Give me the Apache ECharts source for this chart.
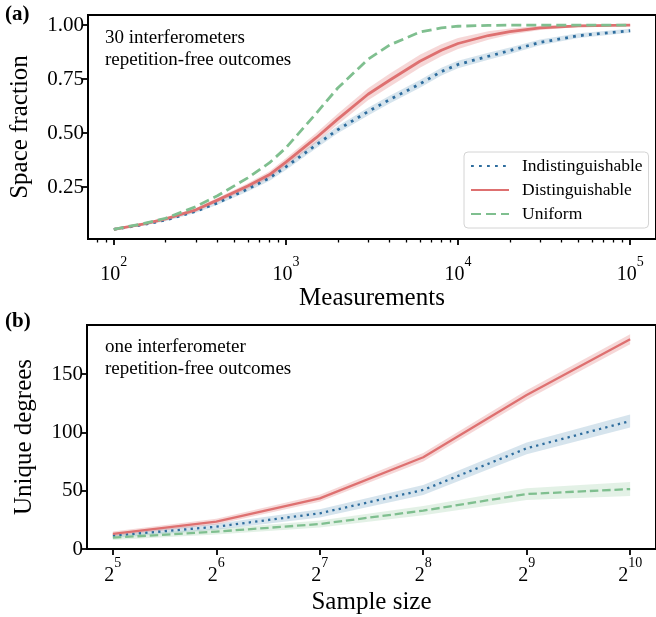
<!DOCTYPE html>
<html>
<head>
<meta charset="utf-8">
<script src="https://cdn.jsdelivr.net/npm/echarts@6/dist/echarts.min.js"></script>
<style>html,body{margin:0;padding:0;background:#fff;}#c{width:656px;height:617px;}</style>
</head>
<body>
<div id="c"></div>
<script>
// ---------- Panel (a) data ----------
const measN = [100,150,200,300,400,600,800,1000,1500,2000,3000,4000,6000,8000,10000,15000,20000,30000,50000,100000];
const indistFrac = [0.055,0.077,0.098,0.138,0.177,0.241,0.292,0.344,0.446,0.516,0.600,0.655,0.728,0.785,0.818,0.856,0.882,0.920,0.951,0.974];
const distFrac   = [0.055,0.080,0.103,0.145,0.190,0.255,0.307,0.366,0.479,0.565,0.680,0.745,0.833,0.884,0.915,0.952,0.970,0.987,0.997,1.000];
const uniformFrac= [0.055,0.082,0.106,0.160,0.210,0.293,0.362,0.432,0.592,0.709,0.842,0.908,0.968,0.987,0.995,0.999,1.000,1.000,1.000,1.000];
const indistFracBand = [0.004,0.005,0.006,0.007,0.009,0.011,0.013,0.014,0.016,0.017,0.018,0.018,0.018,0.018,0.017,0.016,0.015,0.013,0.011,0.009];
const distFracBand   = [0.004,0.005,0.006,0.008,0.010,0.013,0.016,0.018,0.022,0.025,0.028,0.030,0.030,0.028,0.025,0.020,0.015,0.010,0.005,0.002];
const topXTicks = [100,1000,10000,100000];
const topXMinorTicks = [80,90,200,300,400,500,600,700,800,900,2000,3000,4000,5000,6000,7000,8000,9000,20000,30000,40000,50000,60000,70000,80000,90000];
const topYTicks = [0.25,0.5,0.75,1.0];

// ---------- Panel (b) data ----------
const sampleSize = [32,64,128,256,512,1024];
const indistDeg  = [11.4,19.1,30.6,50.6,86.3,109.7];
const distDeg    = [12.9,23.4,43.4,78.6,132.0,179.7];
const uniformDeg = [9.7,14.9,21.4,32.9,47.1,51.4];
const indistDegBand  = [2.0,2.5,3.5,4.3,5.0,5.5];
const distDegBand    = [2.0,2.5,3.0,3.6,4.0,4.3];
const uniformDegBand = [2.0,2.5,3.0,4.0,5.0,6.0];
const botXTicks = [32,64,128,256,512,1024];
const botYTicks = [0,50,100,150];

const labels = ['Indistinguishable','Distinguishable','Uniform'];
const C_BLUE = '#2e6d9e', C_RED = '#de7070', C_GREEN = '#7fbf8f';
const B_BLUE = 'rgba(70,130,175,0.22)', B_RED = 'rgba(221,112,112,0.28)', B_GREEN = 'rgba(127,191,143,0.22)';
const FONT = 'Liberation Serif';

function pairs(xs, ys){ return xs.map((x,i)=>[x, ys[i]]); }
function bandSeries(xs, ys, hw, color, xi, yi){
  const data = xs.map((x,i)=>[x, ys[i]-hw[i], ys[i]+hw[i]]);
  return {
    type:'custom', coordinateSystem:'cartesian2d', xAxisIndex:xi, yAxisIndex:yi, data:data,
    encode:{x:0, y:[1,2]}, silent:true, clip:true, z:1,
    renderItem:function(params, api){
      if (params.dataIndex !== 0) return null;
      const pts = [];
      for (let i=0;i<data.length;i++) pts.push(api.coord([data[i][0], data[i][2]]));
      for (let i=data.length-1;i>=0;i--) pts.push(api.coord([data[i][0], data[i][1]]));
      return {type:'polygon', shape:{points:pts}, style:{fill:color, stroke:null}};
    }
  };
}
function lineSeries(name, xs, ys, color, w, dash, xi, yi){
  return {name:name, type:'line', xAxisIndex:xi, yAxisIndex:yi, data:pairs(xs,ys), symbol:'none',
    lineStyle:{color:color, width:w, type:dash, cap:'butt', join:'round'}, itemStyle:{color:color}, z:3};
}

const supRich = {
  b:{fontFamily:FONT, fontSize:20, color:'#000', verticalAlign:'bottom', lineHeight:30},
  s:{fontFamily:FONT, fontSize:14, color:'#000', verticalAlign:'top', lineHeight:30}
};
const axisLineStyle = {color:'#000', width:2};
const nameStyle = {fontFamily:FONT, fontSize:25, color:'#000'};

const option = {
  animation:false,
  backgroundColor:'#fff',
  grid:[
    {left:87, top:15, width:572, height:224, show:true, borderColor:'#000', borderWidth:2, backgroundColor:'transparent'},
    {left:87, top:325, width:572, height:224, show:true, borderColor:'#000', borderWidth:2, backgroundColor:'transparent'}
  ],
  xAxis:[
    {type:'log', logBase:10, gridIndex:0, position:'bottom', min:Math.pow(10,1.85), max:Math.pow(10,5.15),
     name:'Measurements', nameLocation:'middle', nameGap:38, nameTextStyle:nameStyle,
     axisLine:{show:true, onZero:false, lineStyle:axisLineStyle}, splitLine:{show:false},
     axisTick:{show:true, length:6, lineStyle:{color:'#000', width:1.8}, customValues:topXTicks},
     axisLabel:{customValues:topXTicks, margin:16, rich:supRich,
       formatter:function(v){ return '{b|10}{s|' + Math.round(Math.log10(v)) + '}'; }}},
    {type:'log', logBase:10, gridIndex:0, position:'bottom', min:Math.pow(10,1.85), max:Math.pow(10,5.15),
     axisLine:{show:false, onZero:false}, splitLine:{show:false}, axisLabel:{show:false},
     axisTick:{show:true, length:3.5, lineStyle:{color:'#000', width:1.3}, customValues:topXMinorTicks}},
    {type:'log', logBase:2, gridIndex:1, position:'bottom', min:Math.pow(2,4.75), max:Math.pow(2,10.25),
     name:'Sample size', nameLocation:'middle', nameGap:41, nameTextStyle:nameStyle,
     axisLine:{show:true, onZero:false, lineStyle:axisLineStyle}, splitLine:{show:false},
     axisTick:{show:true, length:6, lineStyle:{color:'#000', width:1.8}, customValues:botXTicks},
     axisLabel:{customValues:botXTicks, margin:7, rich:supRich,
       formatter:function(v){ return '{b|2}{s|' + Math.round(Math.log2(v)) + '}'; }}}
  ],
  yAxis:[
    {type:'value', gridIndex:0, min:0.01, max:1.047,
     name:'Space fraction', nameLocation:'middle', nameGap:55, nameTextStyle:nameStyle,
     axisLine:{show:true, onZero:false, lineStyle:axisLineStyle}, splitLine:{show:false},
     axisTick:{show:true, length:6, lineStyle:{color:'#000', width:1.8}, customValues:topYTicks},
     axisLabel:{customValues:topYTicks, margin:4, fontFamily:FONT, fontSize:21, color:'#000',
       formatter:function(v){ return v.toFixed(2); }}},
    {type:'value', gridIndex:1, min:0, max:192,
     name:'Unique degrees', nameLocation:'middle', nameGap:50, nameTextStyle:nameStyle,
     axisLine:{show:true, onZero:false, lineStyle:axisLineStyle}, splitLine:{show:false},
     axisTick:{show:true, length:6, lineStyle:{color:'#000', width:1.8}, customValues:botYTicks},
     axisLabel:{customValues:botYTicks, margin:4, fontFamily:FONT, fontSize:21, color:'#000',
       formatter:function(v){ return String(v); }}}
  ],
  legend:{
    data:labels, orient:'vertical', left:464, top:152, padding:[5,6,5,6], itemGap:6,
    itemWidth:38, itemHeight:14, backgroundColor:'rgba(255,255,255,0.85)',
    borderColor:'#d4d4d4', borderWidth:1, borderRadius:4,
    itemStyle:{opacity:0},
    textStyle:{fontFamily:FONT, fontSize:17.5, color:'#000', lineHeight:18, padding:[0,0,0,8]}
  },
  graphic:[
    {type:'text', left:5, top:4, style:{text:'(a)', font:'bold 21px "Liberation Serif"', fill:'#000'}},
    {type:'text', left:5, top:311, style:{text:'(b)', font:'bold 21px "Liberation Serif"', fill:'#000'}},
    {type:'text', left:105, top:27, style:{text:'30 interferometers\nrepetition-free outcomes', font:'19px "Liberation Serif"', lineHeight:22, fill:'#000'}},
    {type:'text', left:105, top:336, style:{text:'one interferometer\nrepetition-free outcomes', font:'19px "Liberation Serif"', lineHeight:22, fill:'#000'}}
  ],
  series:[
    bandSeries(measN, indistFrac, indistFracBand, B_BLUE, 0, 0),
    bandSeries(measN, distFrac, distFracBand, B_RED, 0, 0),
    lineSeries(labels[0], measN, indistFrac, C_BLUE, 2.8, [2.8,5.2], 0, 0),
    lineSeries(labels[1], measN, distFrac, C_RED, 2.8, 'solid', 0, 0),
    lineSeries(labels[2], measN, uniformFrac, C_GREEN, 2.8, [10,5], 0, 0),
    bandSeries(sampleSize, indistDeg, indistDegBand, B_BLUE, 2, 1),
    bandSeries(sampleSize, distDeg, distDegBand, B_RED, 2, 1),
    bandSeries(sampleSize, uniformDeg, uniformDegBand, B_GREEN, 2, 1),
    lineSeries(labels[0], sampleSize, indistDeg, C_BLUE, 2.3, [2.3,4.2], 2, 1),
    lineSeries(labels[1], sampleSize, distDeg, C_RED, 2.3, 'solid', 2, 1),
    lineSeries(labels[2], sampleSize, uniformDeg, C_GREEN, 2.3, [8.5,3.8], 2, 1)
  ]
};
const chart = echarts.init(document.getElementById('c'), null, {renderer:'canvas'});
chart.setOption(option);
</script>
</body>
</html>
